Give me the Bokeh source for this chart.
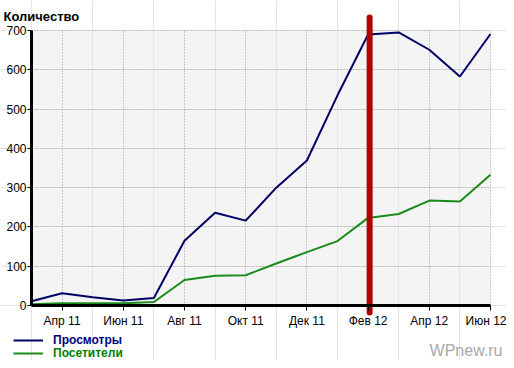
from bokeh.plotting import figure
from bokeh.models import (Range1d, FixedTicker, BoxAnnotation, Label, Legend, LegendItem,
                          LinearAxis, Grid)
from bokeh.embed import file_html
from bokeh.resources import INLINE

# ---- data ----
months = ["Мар 11", "Апр 11", "Май 11", "Июн 11", "Июл 11", "Авг 11", "Сен 11", "Окт 11",
          "Ноя 11", "Дек 11", "Янв 12", "Фев 12", "Мар 12", "Апр 12", "Май 12", "Июн 12"]
views = [11, 31, 21, 13, 19, 165, 236, 216, 300, 369, 535, 690, 695, 651, 583, 691]
visitors = [3, 6, 6, 6, 9, 65, 76, 77, 107, 136, 164, 223, 233, 267, 265, 333]
tick_idx = [1, 3, 5, 7, 9, 11, 13, 15]
y_ticks = [0, 100, 200, 300, 400, 500, 600, 700]
marker_month = 11.05  # red marker just after Feb 12
series_names = ["Просмотры", "Посетители"]
title_text = "Количество"
watermark = "WPnew.ru"

x = list(range(len(months)))

W, H = 506, 360
# pixel scales chosen so that the frame covers the whole canvas
sx = 459 / 15.0
sy = 275 / 700.0
x_start = -31 / sx
x_end = x_start + W / sx
y_end = 305 / sy
y_start = y_end - H / sy

p = figure(width=W, height=H, output_backend="svg", toolbar_location=None,
           x_range=Range1d(x_start, x_end), y_range=Range1d(y_start, y_end),
           x_axis_location=None, y_axis_location=None,
           min_border=0, min_border_left=0, min_border_right=0,
           min_border_top=0, min_border_bottom=0)
p.outline_line_color = None
p.background_fill_color = "white"
p.border_fill_color = "white"

# plot area background
p.add_layout(BoxAnnotation(left=0, right=len(months) - 1, bottom=0, top=max(y_ticks),
                           fill_color="#f4f4f4", fill_alpha=1, line_color=None, level="image"))

xaxis = LinearAxis(ticker=FixedTicker(ticks=tick_idx), fixed_location=0,
                   bounds=(0, len(months) - 1))
xaxis.major_label_overrides = {i: months[i] for i in tick_idx}
yaxis = LinearAxis(ticker=FixedTicker(ticks=y_ticks), fixed_location=0,
                   bounds=(0, max(y_ticks)))
for ax in (xaxis, yaxis):
    ax.axis_line_width = 3
    ax.axis_line_color = "black"
    ax.major_tick_line_color = "black"
    ax.major_tick_line_width = 1
    ax.major_tick_in = 0
    ax.minor_tick_line_color = None
    ax.major_label_text_font = "Liberation Sans"
    ax.major_label_text_font_size = "12px"
    ax.major_label_text_color = "black"
xaxis.major_tick_out = 5
xaxis.major_label_standoff = 3
yaxis.major_tick_out = 4
yaxis.major_label_standoff = 1
p.add_layout(xaxis, "below")
p.add_layout(yaxis, "left")

xgrid = Grid(dimension=0, ticker=xaxis.ticker, grid_line_color="#999999",
             grid_line_dash="1 2", grid_line_width=1, cross_bounds=(0, max(y_ticks)))
ygrid = Grid(dimension=1, ticker=yaxis.ticker, grid_line_color="#999999",
             grid_line_dash="1 2", grid_line_width=1, cross_bounds=(0, len(months) - 1))
p.add_layout(xgrid)
p.add_layout(ygrid)

r_views = p.line(x, views, line_color="#000066", line_width=2)
r_vis = p.line(x, visitors, line_color="#1a8a1a", line_width=2)

# red marker line
p.segment(x0=[marker_month], y0=[-18], x1=[marker_month], y1=[733],
          line_color="#b30000", line_width=6, line_cap="round")

# title
p.add_layout(Label(x=x_start + 3 / sx, y=735, text=title_text, text_font="Liberation Sans",
                   text_font_size="13px", text_font_style="bold", text_color="black",
                   text_baseline="alphabetic"))

# watermark
p.add_layout(Label(x=x_start + 502 / sx, y=-114, text=watermark, text_font="Liberation Sans",
                   text_font_size="16px", text_color="#a8a8a8", text_align="right",
                   text_baseline="alphabetic"))

# legends
for name, rend, col, ypos in ((series_names[0], r_views, "#000080", 13),
                              (series_names[1], r_vis, "#008000", 0)):
    leg = Legend(items=[LegendItem(label=name, renderers=[rend])], location=(13, ypos),
                 glyph_width=30, glyph_height=12, label_height=12, label_standoff=10,
                 padding=0, margin=0, spacing=0, border_line_color=None,
                 background_fill_alpha=0, label_text_font="Liberation Sans",
                 label_text_font_size="12px", label_text_font_style="bold",
                 label_text_color=col)
    p.add_layout(leg)

open("out.html", "w").write(file_html(p, INLINE))
